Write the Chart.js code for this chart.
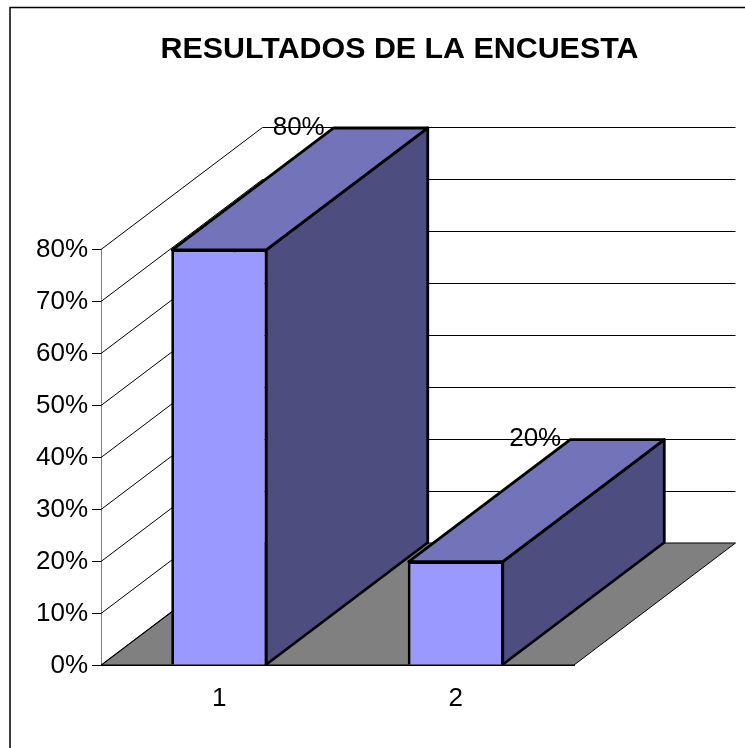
<!DOCTYPE html>
<html>
<head>
<meta charset="utf-8">
<title>Resultados de la encuesta</title>
<script src="https://cdn.jsdelivr.net/npm/chart.js@4"></script>
<style>
    html, body { margin: 0; padding: 0; background: #fff; }
    canvas { display: block; }
</style>
</head>
<body>
<canvas id="surveyChart" width="745" height="748"></canvas>
<script>
const chartTitle = 'RESULTADOS DE LA ENCUESTA';
const categories = ['1', '2'];
const surveyValues = [80, 20];
const valueLabels = ['80%', '20%'];

const fontName = '"Liberation Sans", Arial, sans-serif';

// Depth of the fake 3D box, in pixels
const depthX = 161.5;
const depthY = 122;

function fillFace(ctx, points, fill, lineWidth) {
    ctx.beginPath();
    points.forEach((p, i) => i ? ctx.lineTo(p[0], p[1]) : ctx.moveTo(p[0], p[1]));
    ctx.closePath();
    if (fill) {
        ctx.fillStyle = fill;
        ctx.fill();
    }
    ctx.lineWidth = lineWidth;
    ctx.strokeStyle = '#000';
    ctx.stroke();
}

// Frame around the chart: the picture cuts off its right and bottom sides
const framePlugin = {
    id: 'frame',
    beforeDraw(chart) {
        const ctx = chart.ctx;
        ctx.save();
        ctx.strokeStyle = '#000';
        ctx.lineWidth = 1.5;
        ctx.beginPath();
        ctx.moveTo(10, chart.height);
        ctx.lineTo(10, 7.5);
        ctx.lineTo(chart.width, 7.5);
        ctx.stroke();
        ctx.restore();
    }
};

// Floor, walls, and the side and top faces of the bars
const depthPlugin = {
    id: 'depth',
    beforeDatasetsDraw(chart) {
        const ctx = chart.ctx;
        const area = chart.chartArea;
        const yScale = chart.scales.y;
        const bars = chart.getDatasetMeta(0).data;
        ctx.save();

        fillFace(ctx, [
            [area.left, area.bottom],
            [area.right, area.bottom],
            [area.right + depthX, area.bottom - depthY],
            [area.left + depthX, area.bottom - depthY]
        ], '#808080', 1);

        ctx.strokeStyle = '#000';
        ctx.lineWidth = 1;
        yScale.ticks.forEach(tick => {
            const y = Math.round(yScale.getPixelForValue(tick.value)) + 0.5;
            ctx.beginPath();
            ctx.moveTo(area.left, y);
            ctx.lineTo(area.left + depthX, y - depthY);
            if (tick.value > 0) {
                ctx.lineTo(area.right + depthX, y - depthY);
            }
            ctx.stroke();
        });

        // Value labels sit on the back wall, just left of each bar's top
        ctx.fillStyle = '#000';
        ctx.font = '26px ' + fontName;
        ctx.textAlign = 'right';
        ctx.textBaseline = 'middle';
        bars.forEach((bar, i) => {
            const left = bar.x - bar.width / 2;
            ctx.fillText(valueLabels[i], left + depthX - 8, bar.y - depthY);
        });

        ctx.lineJoin = 'round';
        bars.forEach(bar => {
            const left = bar.x - bar.width / 2 + 1;
            const right = bar.x + bar.width / 2 - 1;
            const top = bar.y + 0.5;
            const bottom = bar.base;
            fillFace(ctx, [
                [right, top],
                [right + depthX, top - depthY],
                [right + depthX, bottom - depthY],
                [right, bottom]
            ], '#4D4D80', 2.8);
            fillFace(ctx, [
                [left, top],
                [left + depthX, top - depthY],
                [right + depthX, top - depthY],
                [right, top]
            ], '#7373BA', 2.8);
        });
        ctx.restore();
    }
};

new Chart(document.getElementById('surveyChart').getContext('2d'), {
    type: 'bar',
    data: {
        labels: categories,
        datasets: [{
            data: surveyValues,
            backgroundColor: '#9999FF',
            borderColor: '#000',
            borderWidth: 2.8,
            barPercentage: 0.406,
            categoryPercentage: 1
        }]
    },
    options: {
        responsive: false,
        animation: false,
        // Negative right padding moves the title's centre over to the reference's
        layout: { padding: { right: -54 } },
        plugins: {
            legend: { display: false },
            tooltip: { enabled: false },
            title: {
                display: true,
                text: chartTitle,
                color: '#000',
                font: { family: fontName, size: 30.4, weight: 'bold' },
                padding: { top: 31, bottom: 182 }
            }
        },
        scales: {
            x: {
                grid: { display: false },
                border: { color: '#000', width: 1 },
                ticks: {
                    color: '#000',
                    font: { family: fontName, size: 26 },
                    padding: 10,
                    maxRotation: 0
                },
                afterFit(scale) { scale.height = 83; }
            },
            y: {
                min: 0,
                max: 80,
                grid: { drawOnChartArea: false, color: '#000', tickLength: 9 },
                border: { color: '#808080', width: 1 },
                ticks: {
                    stepSize: 10,
                    color: '#000',
                    font: { family: fontName, size: 26 },
                    padding: 4,
                    labelOffset: 0.5,
                    callback: value => value + '%'
                },
                afterFit(scale) { scale.width = 101; }
            },
            // Empty axis that keeps the depth space free on the right
            depthSpace: {
                axis: 'y',
                position: 'right',
                grid: { display: false },
                border: { display: false },
                ticks: { display: false },
                afterFit(scale) { scale.width = 225; }
            }
        }
    },
    plugins: [framePlugin, depthPlugin]
});
</script>
</body>
</html>
